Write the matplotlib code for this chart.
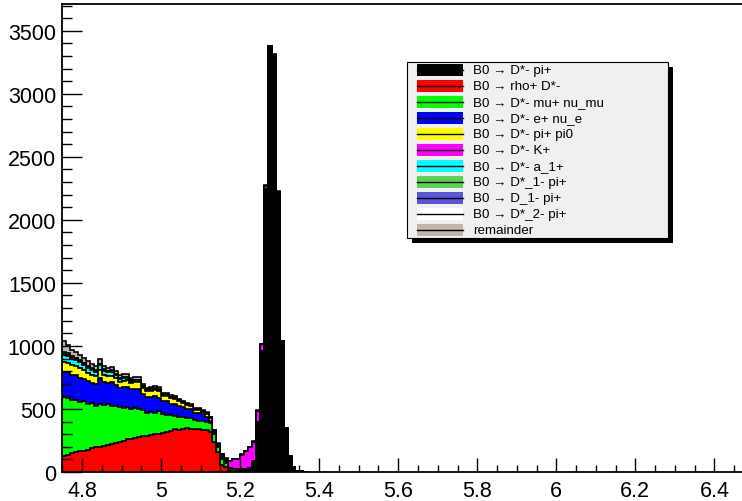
import numpy as np
import matplotlib
matplotlib.use("Agg")
import matplotlib.pyplot as plt
from matplotlib.patches import Rectangle
from matplotlib.lines import Line2D
from matplotlib.ticker import MultipleLocator, FuncFormatter

plt.rcParams['font.family'] = ['Liberation Sans', 'DejaVu Sans']

# Histogram binning: 10 MeV bins starting at 4.75 GeV
x_min = 4.75
bin_width = 0.01
x_range = (4.75, 6.5)
y_max = 3712

# Decay channel contributions per bin (stack order, bottom to top)
dstar_pi = [0] * 43 + [2, 3, 6, 12, 20, 80, 395, 955, 2240, 3370,
                       3308, 2222, 1038, 350, 128, 36, 10, 4, 2]
rho_dstar = [130, 138, 150, 155, 163, 170, 178, 188, 195, 200,
             210, 218, 225, 232, 240, 248, 258, 262, 270, 278,
             285, 282, 292, 298, 305, 310, 318, 328, 342, 335,
             342, 348, 345, 345, 338, 335, 330, 318, 240, 155,
             55, 38, 5, 3, 2, 0, 0, 0, 0, 0,
             0, 0, 0, 0, 0, 0, 0, 0, 0, 0, 0, 0]
dstar_mu_nu = [462, 447, 425, 413, 395, 390, 360, 357, 330, 340,
               320, 320, 300, 288, 275, 257, 257, 236, 235, 222,
               207, 188, 186, 167, 180, 152, 137, 122, 106, 105,
               94, 82, 80, 68, 68, 70, 65, 67, 60, 45,
               50, 32, 20, 18, 15, 12, 10, 8, 6, 3,
               2, 1, 0, 0, 0, 0, 0, 0, 0, 0, 0, 0]
dstar_e_nu = [200, 205, 195, 200, 190, 180, 180, 160, 175, 205,
              180, 170, 185, 170, 150, 170, 160, 160, 155, 160,
              130, 125, 118, 135, 105, 100, 110, 92, 95, 86,
              78, 68, 72, 58, 60, 52, 45, 20, 18, 14,
              18, 12, 5, 4, 3, 3, 2, 0, 0, 0,
              0, 0, 0, 0, 0, 0, 0, 0, 0, 0, 0, 0]
dstar_pi_pi0 = [80, 78, 78, 72, 74, 68, 70, 65, 58, 62,
                58, 52, 55, 52, 48, 50, 52, 48, 50, 52,
                44, 44, 46, 48, 52, 40, 38, 42, 38, 36,
                33, 30, 28, 24, 26, 21, 24, 26, 10, 6,
                4, 3, 2, 0, 0, 0, 0, 0, 0, 0,
                0, 0, 0, 0, 0, 0, 0, 0, 0, 0, 0, 0]
dstar_k = [0] * 40 + [12, 20, 55, 75, 80, 115, 140, 170, 155, 88,
                      60, 30, 6, 3, 2, 1, 0, 0, 0, 0, 0, 0]
dstar_a1 = [58, 54, 52, 48, 48, 44, 40, 38, 36, 38,
            34, 30, 28, 24, 21, 19, 17, 15, 14, 12,
            10, 9, 8, 8, 6, 6, 5, 5, 4, 4,
            3, 3, 2, 2, 2, 2, 1, 1, 1, 0] + [0] * 22
dstar1_pi = [10, 9, 9, 8, 8, 7, 7, 7, 6, 7,
             6, 5, 6, 5, 5, 4, 5, 4, 4, 4,
             3, 3, 3, 3, 3, 3, 3, 2, 2, 2,
             2, 2, 2, 2, 2, 1, 1, 1, 1, 1] + [0] * 22
d1_pi = [7, 7, 6, 6, 6, 5, 5, 5, 5, 5,
         4, 4, 4, 4, 4, 4, 4, 3, 3, 3,
         3, 3, 3, 3, 3, 2, 2, 2, 2, 2,
         2, 2, 1, 1, 1, 1, 1, 1, 1, 1] + [0] * 22
dstar2_pi = [5, 4, 4, 4, 4, 4, 4, 3, 3, 3,
             3, 3, 3, 3, 3, 3, 3, 2, 2, 2,
             2, 2, 2, 2, 2, 2, 2, 2, 2, 2,
             1, 1, 1, 1, 1, 1, 1, 1, 1, 1] + [0] * 22
remainder = [85, 62, 52, 48, 42, 38, 35, 32, 30, 34,
             27, 24, 26, 22, 20, 22, 22, 19, 18, 20,
             15, 14, 15, 15, 16, 13, 12, 12, 11, 10,
             9, 9, 8, 8, 7, 7, 6, 5, 5, 4,
             4, 3, 3, 3, 3, 3, 2, 2, 2, 2,
             2, 2, 2, 1, 1, 0, 0, 0, 0, 0, 0, 0]

labels = ["B0 \u2192 D*- pi+", "B0 \u2192 rho+ D*-", "B0 \u2192 D*- mu+ nu_mu",
          "B0 \u2192 D*- e+ nu_e", "B0 \u2192 D*- pi+ pi0", "B0 \u2192 D*- K+",
          "B0 \u2192 D*- a_1+", "B0 \u2192 D*_1- pi+", "B0 \u2192 D_1- pi+",
          "B0 \u2192 D*_2- pi+", "remainder"]
colors = ["#000000", "#ff0000", "#00ff00", "#0000ff", "#ffff00", "#ff00ff",
          "#00ffff", "#59d454", "#5954d9", "#ffffff", "#c0b6ac"]

series = [dstar_pi, rho_dstar, dstar_mu_nu, dstar_e_nu, dstar_pi_pi0, dstar_k,
          dstar_a1, dstar1_pi, d1_pi, dstar2_pi, remainder]

n_bins = len(rho_dstar)
edges = x_min + bin_width * np.arange(n_bins + 1)
stack = np.cumsum(np.array(series, dtype=float), axis=0)

W, H = 742, 502
fig = plt.figure(figsize=(W / 100, H / 100), dpi=100)
fig.patch.set_facecolor("white")
ax = fig.add_axes([62.3 / W, 29 / H, 691.6 / W, 468 / H])

# Draw the stack from the top layer down, each with a black contour
for k in reversed(range(len(series))):
    ax.stairs(stack[k], edges, baseline=0, fill=True,
              facecolor=colors[k], edgecolor="none", linewidth=0)
    ax.stairs(stack[k], edges, baseline=0, fill=False,
              color="black", linewidth=1.2)

ax.set_xlim(*x_range)
ax.set_ylim(0, y_max)

ax.xaxis.set_major_locator(MultipleLocator(0.2))
ax.xaxis.set_minor_locator(MultipleLocator(0.05))
ax.yaxis.set_major_locator(MultipleLocator(500))
ax.yaxis.set_minor_locator(MultipleLocator(100))
ax.xaxis.set_major_formatter(FuncFormatter(lambda v, p: f"{v:g}"))
ax.yaxis.set_major_formatter(FuncFormatter(lambda v, p: f"{v:.0f}"))

ax.tick_params(axis="x", which="major", direction="in", length=10, width=1,
               pad=6.0, labelsize=15.5)
ax.tick_params(axis="x", which="minor", direction="in", length=5, width=1)
ax.tick_params(axis="y", which="major", direction="in", length=14.4, width=1,
               pad=4.5, labelsize=15.5)
ax.tick_params(axis="y", which="minor", direction="in", length=7.2, width=1)
for s in ax.spines.values():
    s.set_linewidth(1.3)
ax.set_axisbelow(False)


def fx(x):
    return x / W


def fy(y):
    return 1 - y / H


# Legend box with drop shadow
lx0, ly0, lx1, ly1 = 407.3, 63.3, 667.7, 239.0
shadow = 5.0
fig.add_artist(Rectangle((fx(lx0 + shadow), fy(ly1 + shadow)),
                         (lx1 - lx0) / W, (ly1 - ly0) / H,
                         transform=fig.transFigure, facecolor="black",
                         edgecolor="none", zorder=10))
fig.add_artist(Rectangle((fx(lx0), fy(ly1)), (lx1 - lx0) / W, (ly1 - ly0) / H,
                         transform=fig.transFigure, facecolor="#f0f0f0",
                         edgecolor="black", linewidth=0.8, zorder=11))

row0, row_step = 71.0, 15.97
mx0, mx1, mh = 416.7, 462.7, 12.0
for i, (lab, col) in enumerate(zip(labels, colors)):
    yc = row0 + i * row_step
    fig.add_artist(Rectangle((fx(mx0), fy(yc + mh / 2)), (mx1 - mx0) / W, mh / H,
                             transform=fig.transFigure, facecolor=col,
                             edgecolor="none", zorder=12))
    fig.add_artist(Line2D([fx(mx0), fx(mx1)], [fy(yc), fy(yc)],
                          transform=fig.transFigure, color="black",
                          linewidth=1.0, zorder=13))
    fig.text(fx(472.7), fy(yc), lab, fontsize=9.6, va="center", ha="left",
             zorder=13)

fig.savefig("out.png", dpi=100)
